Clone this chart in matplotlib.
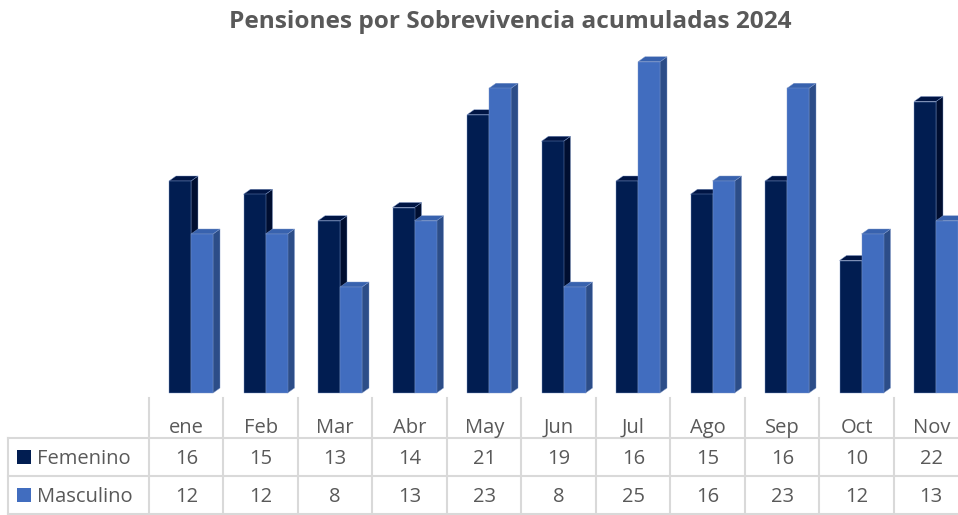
import matplotlib.pyplot as plt
from matplotlib.patches import Polygon
from typing import Tuple

MONTHS = ["ene", "Feb", "Mar", "Abr", "May", "Jun", "Jul", "Ago", "Sep", "Oct", "Nov"]
FEMENINO = [16, 15, 13, 14, 21, 19, 16, 15, 16, 10, 22]
MASCULINO = [12, 12, 8, 13, 23, 8, 25, 16, 23, 12, 13]
SERIES = ["Femenino", "Masculino"]

# front, side, cap colours per series
COLORS = {
    "Femenino": ("#011D51", "#000E30", "#001544"),
    "Masculino": ("#416DBF", "#2C4D88", "#3862AE"),
}

W, H = 958, 515
COL_X0 = 149          # left edge of first month column (px)
COL_W = 74.5          # month column width (px)
BASE_Y = 393          # bar baseline (px from top)
PX_PER_UNIT = 13.25   # vertical scale
Y_MAX = 27
TEXT_COLOR = "#595959"
GRID_COLOR = "#D9D9D9"
FONT = "Open Sans"
CELL_SIZE = 14.5


def make_figure() -> Tuple[plt.Figure, plt.Axes, plt.Axes]:
    fig = plt.figure(figsize=(W / 100, H / 100), dpi=100)
    fig.patch.set_facecolor("white")

    # overlay axes in pixel coordinates for the table and title
    over = fig.add_axes([0, 0, 1, 1])
    over.set_xlim(0, W)
    over.set_ylim(H, 0)
    over.axis("off")

    bottom = (H - BASE_Y) / H
    height = Y_MAX * PX_PER_UNIT / H
    ax = fig.add_axes([COL_X0 / W, bottom, len(MONTHS) * COL_W / W, height])
    ax.set_xlim(0, len(MONTHS))
    ax.set_ylim(0, Y_MAX)
    ax.axis("off")
    return fig, ax, over


def draw_bar(ax: plt.Axes, x0: float, width: float, h: float,
             colors: Tuple[str, str, str]) -> None:
    front, side, cap = colors
    dx = 7 / COL_W
    dy = 5 / PX_PER_UNIT
    x1 = x0 + width
    side_poly = [(x1, 0), (x1 + dx, dy), (x1 + dx, h + dy), (x1, h)]
    cap_poly = [(x0, h), (x1, h), (x1 + dx, h + dy), (x0 + dx, h + dy)]
    front_poly = [(x0, 0), (x1, 0), (x1, h), (x0, h)]
    edge = dict(ec="#7D97C9", lw=0.3, clip_on=False)
    ax.add_patch(Polygon(side_poly, closed=True, fc=side, **edge))
    ax.add_patch(Polygon(cap_poly, closed=True, fc=cap, **edge))
    ax.add_patch(Polygon(front_poly, closed=True, fc=front, **edge))


def add_bars(ax: plt.Axes) -> None:
    bar_w = 22 / COL_W
    offset = 20 / COL_W
    for i in range(len(MONTHS)):
        draw_bar(ax, i + offset, bar_w, FEMENINO[i], COLORS["Femenino"])
        draw_bar(ax, i + offset + bar_w, bar_w, MASCULINO[i], COLORS["Masculino"])


def add_table(over: plt.Axes) -> None:
    right = COL_X0 + len(MONTHS) * COL_W
    rows_y = [438, 476, 514]
    for y in rows_y:
        over.plot([8, right], [y, y], color=GRID_COLOR, lw=1.5)
    over.plot([8, 8], [438, 514], color=GRID_COLOR, lw=1.5)
    for k in range(len(MONTHS) + 1):
        x = COL_X0 + k * COL_W
        over.plot([x, x], [398, 514], color=GRID_COLOR, lw=1.5)

    cell = dict(ha="center", va="baseline", fontsize=CELL_SIZE,
                color=TEXT_COLOR, family=FONT)
    for i, m in enumerate(MONTHS):
        cx = COL_X0 + (i + 0.5) * COL_W
        over.text(cx, 433, m, **cell)
        over.text(cx, 464, str(FEMENINO[i]), **cell)
        over.text(cx, 502, str(MASCULINO[i]), **cell)

    for name, base in zip(SERIES, [464, 502]):
        over.add_patch(plt.Rectangle((17, base - 14), 14, 14,
                                     fc=COLORS[name][0], ec="none"))
        over.text(37, base, name, ha="left", va="baseline",
                  fontsize=CELL_SIZE, color=TEXT_COLOR, family=FONT)


def add_title(over: plt.Axes) -> None:
    over.text(510, 28, "Pensiones por Sobrevivencia acumuladas 2024",
              ha="center", va="baseline", fontsize=17.6, fontweight="bold",
              color=TEXT_COLOR, family=FONT)


def entry_point() -> None:
    fig, ax, over = make_figure()
    add_bars(ax)
    add_table(over)
    add_title(over)
    fig.savefig("out.png", dpi=100)


if __name__ == "__main__":
    entry_point()
